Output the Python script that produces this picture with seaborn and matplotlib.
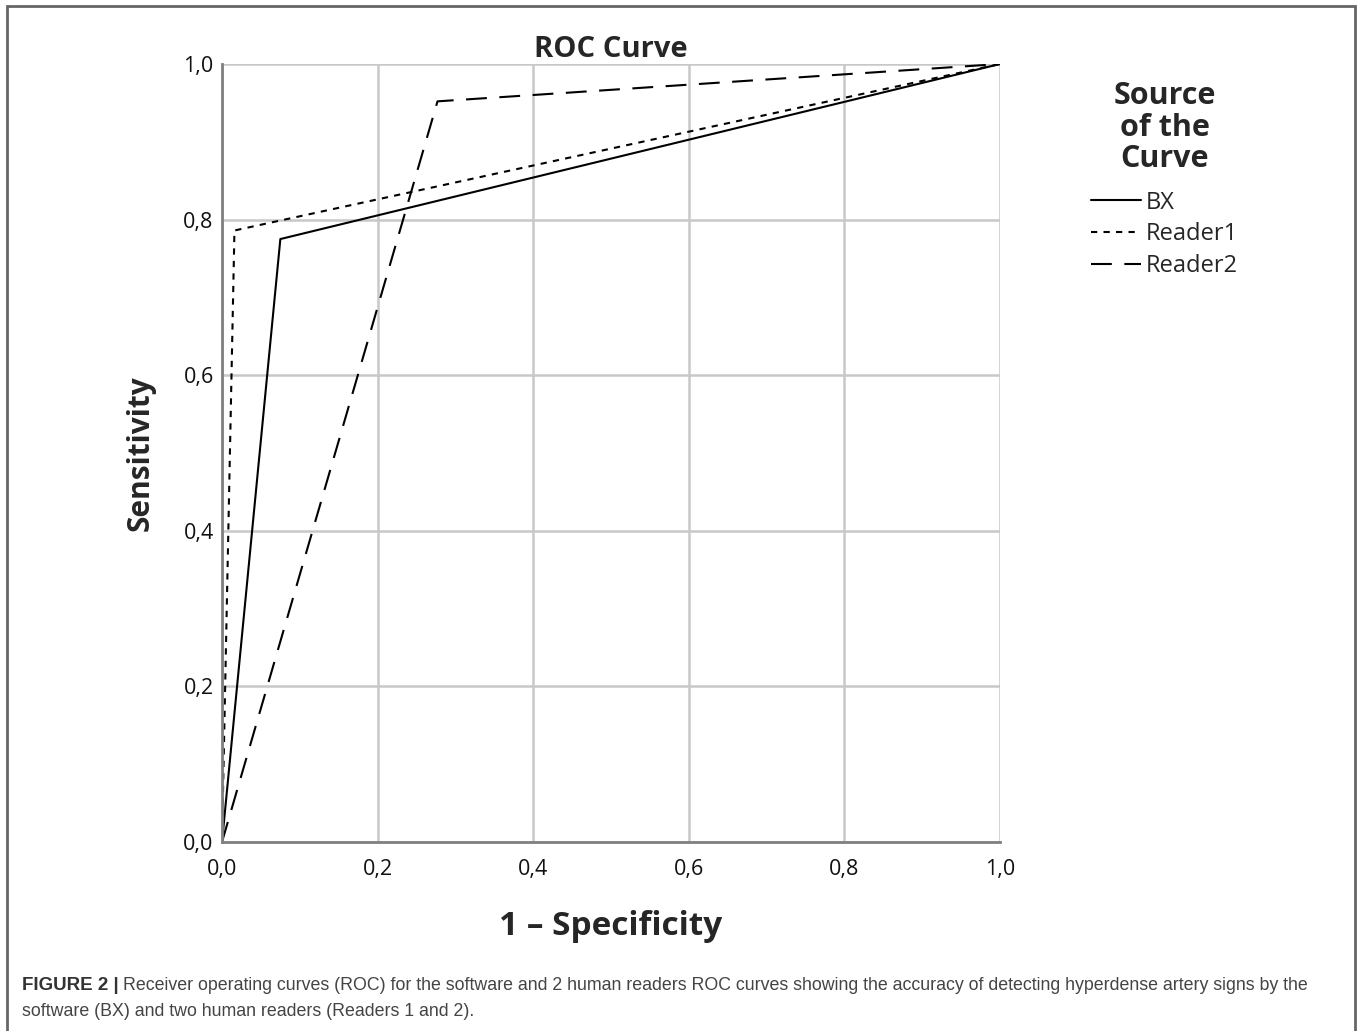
import matplotlib
matplotlib.use("Agg")
import matplotlib.pyplot as plt
import seaborn as sns
import pandas as pd
from matplotlib.ticker import FuncFormatter
from matplotlib.patches import Rectangle

sources = ["BX", "Reader1", "Reader2"]
fpr_bx = [0.0, 0.075, 1.0]
tpr_bx = [0.0, 0.775, 1.0]
fpr_r1 = [0.0, 0.016, 1.0]
tpr_r1 = [0.0, 0.786, 1.0]
fpr_r2 = [0.0, 0.277, 1.0]
tpr_r2 = [0.0, 0.952, 1.0]
ticks = [0.0, 0.2, 0.4, 0.6, 0.8, 1.0]

rows = []
for s, xs, ys in zip(sources, [fpr_bx, fpr_r1, fpr_r2], [tpr_bx, tpr_r1, tpr_r2]):
    for i, (x, y) in enumerate(zip(xs, ys)):
        rows.append({"Source": s, "fpr": x, "tpr": y, "order": i})
df = pd.DataFrame(rows)

sns.set_theme(style="white")
plt.rcParams['font.family'] = ['Open Sans', 'DejaVu Sans']

fig = plt.figure(figsize=(13.57, 10.31), dpi=100)
ax = fig.add_axes([222/1357, 189/1031, 778/1357, 778/1031])

dashes = {"BX": "", "Reader1": (3, 3), "Reader2": (10, 6)}
sns.lineplot(data=df, x="fpr", y="tpr", style="Source", dashes=dashes,
             color="black", sort=False, estimator=None, linewidth=1.5,
             ax=ax, legend=True)

ax.set_xlim(0, 1)
ax.set_ylim(0, 1)
ax.set_xticks(ticks)
ax.set_yticks(ticks)
fmt = FuncFormatter(lambda v, p: f"{v:.1f}".replace(".", ","))
ax.xaxis.set_major_formatter(fmt)
ax.yaxis.set_major_formatter(fmt)
ax.grid(True, color="#c8c8c8", linewidth=1.8)
ax.set_axisbelow(True)
for sp in ["top", "right"]:
    ax.spines[sp].set_visible(False)
for sp in ["left", "bottom"]:
    ax.spines[sp].set_color("#808080")
    ax.spines[sp].set_linewidth(2)
ax.tick_params(axis="both", length=0, labelsize=15.5, colors="#111111")
ax.tick_params(axis="x", pad=12)
ax.tick_params(axis="y", pad=6)

ax.set_title("ROC Curve", fontsize=21, fontweight="bold", pad=5)
ax.set_xlabel("1 – Specificity", fontsize=24, fontweight="bold", labelpad=22)
ax.set_ylabel("Sensitivity", fontsize=21.5, fontweight="bold", labelpad=20)

handles, labels = ax.get_legend_handles_labels()
leg = ax.legend(handles, labels, title="Source\nof the\nCurve",
                loc="upper left", bbox_to_anchor=(1070/1357, 1 - 60/1031),
                bbox_transform=fig.transFigure, frameon=False,
                fontsize=17, title_fontproperties={"weight": "bold", "size": 22},
                handlelength=2.1, handletextpad=0.2, labelspacing=0.33)
leg._legend_box.align = "center"
leg._legend_box.sep += 6
leg.get_title().set_multialignment("center")
leg.get_title().set_linespacing(1.07)
for l in leg.get_lines():
    l.set_linewidth(1.5)
    l.set_color("black")

# figure frame
fig.patches.append(Rectangle((7/1357, -0.01), (1355-7)/1357, 1.01 - 6/1031,
                             transform=fig.transFigure, fill=False,
                             edgecolor="#666666", linewidth=2))

cap_font = ['Liberation Sans', 'DejaVu Sans']
t1 = fig.text(22/1357, 1 - 985/1031, "FIGURE 2 |", fontsize=13.5, fontweight="bold",
              color="#333333", family=cap_font, va="center")
fig.canvas.draw()
bb = t1.get_window_extent()
fig.text(bb.x1/1357 + 4/1357, 1 - 985/1031,
         "Receiver operating curves (ROC) for the software and 2 human readers ROC curves showing the accuracy of detecting hyperdense artery signs by the",
         fontsize=12.8, color="#444444", family=cap_font, va="center")
fig.text(22/1357, 1 - 1012/1031,
         "software (BX) and two human readers (Readers 1 and 2).",
         fontsize=12.8, color="#444444", family=cap_font, va="center")

fig.savefig("out.png", dpi=100)
